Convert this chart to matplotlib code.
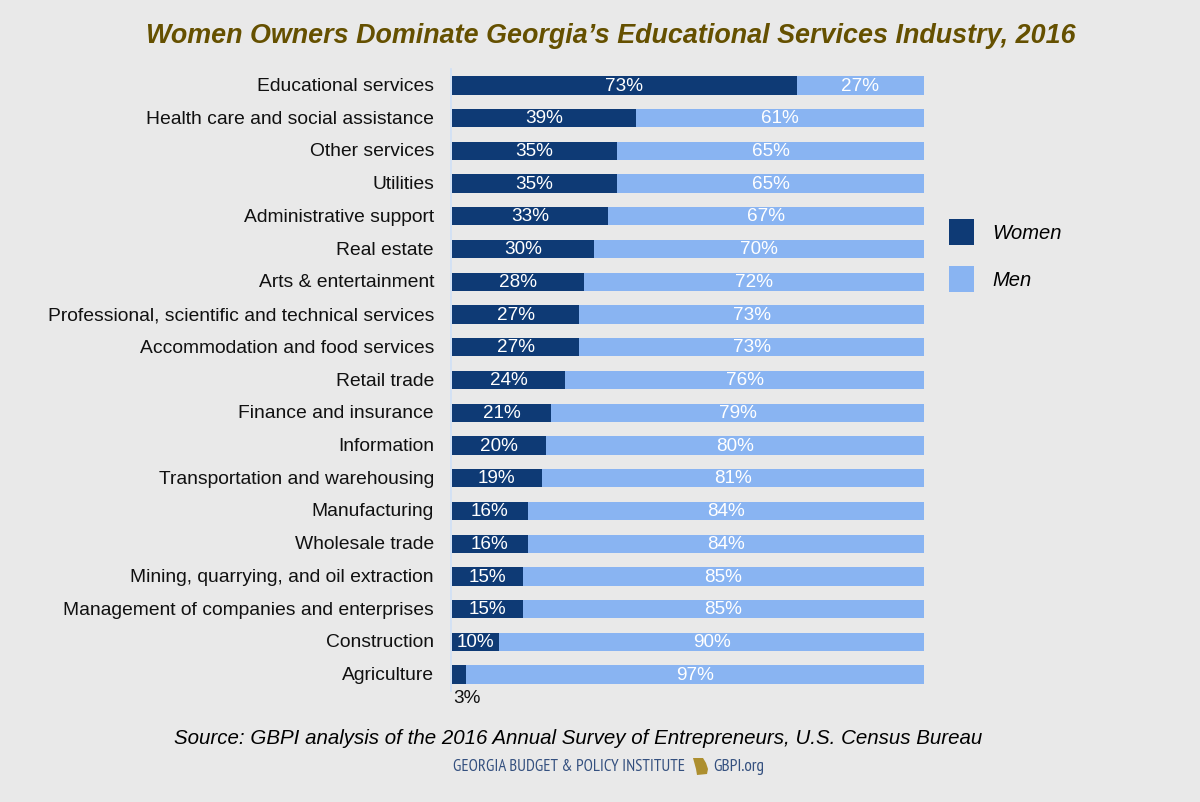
import matplotlib
matplotlib.use("Agg")
import matplotlib.pyplot as plt
from matplotlib.patches import Polygon
from matplotlib.transforms import ScaledTranslation

plt.rcParams['font.family'] = ['Liberation Sans', 'DejaVu Sans']

industries = ["Educational services", "Health care and social assistance", "Other services",
              "Utilities", "Administrative support", "Real estate", "Arts & entertainment",
              "Professional, scientific and technical services", "Accommodation and food services",
              "Retail trade", "Finance and insurance", "Information",
              "Transportation and warehousing", "Manufacturing", "Wholesale trade",
              "Mining, quarrying, and oil extraction", "Management of companies and enterprises",
              "Construction", "Agriculture"]
women = [73, 39, 35, 35, 33, 30, 28, 27, 27, 24, 21, 20, 19, 16, 16, 15, 15, 10, 3]
men = [27, 61, 65, 65, 67, 70, 72, 73, 73, 76, 79, 80, 81, 84, 84, 85, 85, 90, 97]

BG = '#e9e9e9'
DARK = '#0e3a75'
LIGHT = '#89b4f2'
LOGO = '#34507f'
W, H = 1200, 802
LABEL_SIZE = 13.9
PCT_SIZE = 13.6

fig = plt.figure(figsize=(W / 100, H / 100), dpi=100, facecolor=BG)
ax = fig.add_axes([452 / W, 1 - 691 / H, 472 / W, 622 / H], facecolor=BG)

# set_position resets the ticks, so it has to come before the tick labels
ax.spines['left'].set_position(('outward', 1))
ax.spines['left'].set_color('#cfe0f7')
ax.spines['left'].set_linewidth(1.2)
for s in ['top', 'right', 'bottom']:
    ax.spines[s].set_visible(False)

pos = range(len(industries))
b1 = ax.barh(pos, women, height=0.56, color=DARK, label='Women')
b2 = ax.barh(pos, men, left=women, height=0.56, color=LIGHT, label='Men')
ax.set_xlim(0, 100)
ax.set_ylim(18.5, -0.5)

ax.set_yticks(list(pos))
ax.set_yticklabels(industries, fontsize=LABEL_SIZE, color='#111111')
ax.set_xticks([])
ax.tick_params(axis='y', length=0, pad=12)
nudge = ScaledTranslation(0, 1 / 100, fig.dpi_scale_trans)
for lab in ax.get_yticklabels():
    lab.set_transform(lab.get_transform() + nudge)

for i in pos:
    if women[i] >= 10:
        ax.text(women[i] / 2, i + 0.02, f"{women[i]}%", color='white', fontsize=PCT_SIZE,
                ha='center', va='center')
    else:
        ax.text(women[i] / 2 + 1.7, i + 0.72, f"{women[i]}%", color='#111111', fontsize=PCT_SIZE,
                ha='center', va='center')
    ax.text(women[i] + men[i] / 2, i + 0.02, f"{men[i]}%", color='white', fontsize=PCT_SIZE,
            ha='center', va='center')

fig.legend(handles=[b1, b2], loc='upper left', bbox_to_anchor=(949 / W, 1 - 219 / H),
           frameon=False, prop={'style': 'italic', 'size': 14.5}, handlelength=1.25,
           handleheight=1.6, handletextpad=0.9, labelspacing=1.05, borderaxespad=0,
           borderpad=0)

fig.text(610.5 / W, 1 - 36 / H, "Women Owners Dominate Georgia\u2019s Educational Services Industry, 2016",
         color='#655000', fontsize=19.4, fontweight='bold', style='italic', ha='center', va='center')
fig.text(578.5 / W, 1 - 738 / H, "Source: GBPI analysis of the 2016 Annual Survey of Entrepreneurs, U.S. Census Bureau",
         color='black', fontsize=14.8, style='italic', ha='center', va='center')

logo_font = ['PT Sans Narrow', 'Liberation Sans']
fig.text(453 / W, 1 - 767 / H, "GEORGIA BUDGET & POLICY INSTITUTE", color=LOGO, fontsize=12.1,
         family=logo_font, ha='left', va='center')
fig.text(713 / W, 1 - 767 / H, "GBPI.org", color=LOGO, fontsize=12.4,
         family=logo_font, ha='left', va='center')

# small state outline in the footer logo
georgia = [(693, 758), (703, 758), (706, 763), (708, 769), (707, 774), (697, 775), (696, 769)]
fig.add_artist(Polygon([(x / W, 1 - y / H) for x, y in georgia], closed=True,
                       transform=fig.transFigure, facecolor='#ad8f2f', edgecolor='none'))

fig.savefig('out.png', dpi=100, facecolor=BG)
